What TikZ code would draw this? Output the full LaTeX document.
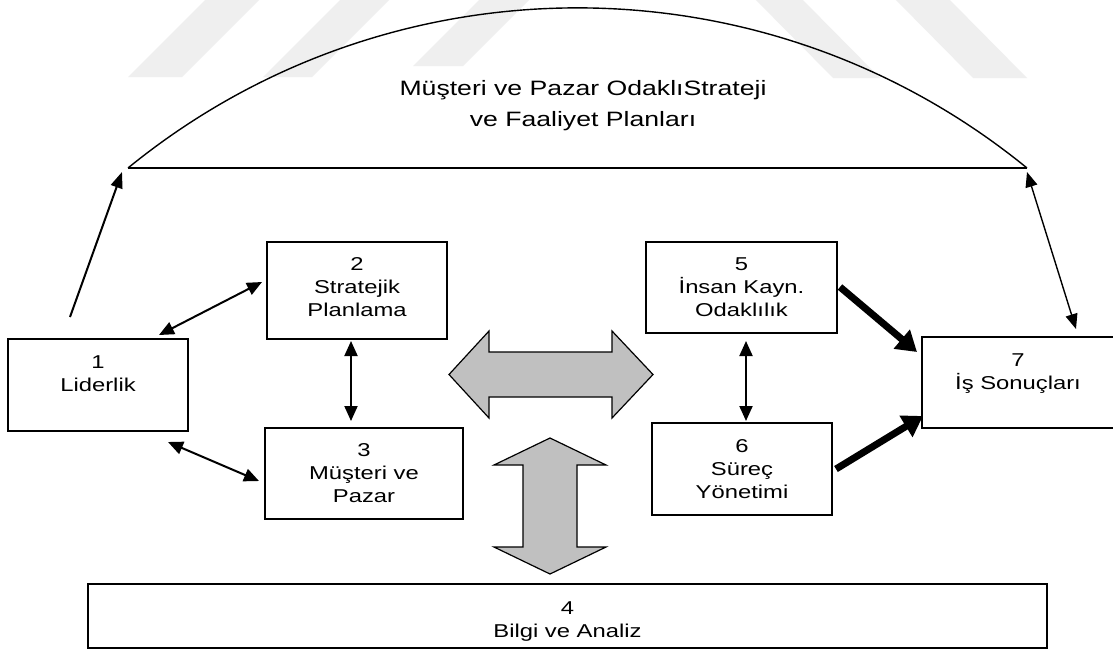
\documentclass[tikz,border=0pt]{standalone}
\usepackage{fontspec}
\setmainfont{Liberation Sans}[FakeStretch=1.28]
\usetikzlibrary{arrows.meta}

\definecolor{wmark}{HTML}{EFEFEF}
\definecolor{arrowfill}{HTML}{C0C0C0}

\tikzset{
  box/.style={draw, line width=1.6pt, fill=white, inner sep=0pt},
  boxtext/.style={anchor=base, align=center, inner sep=0pt,
    font=\fontsize{18.6pt}{23pt}\selectfont},
  link/.style={line width=2pt, {Triangle[length=15pt,width=13pt]}-{Triangle[length=15pt,width=13pt]}},
  thinlink/.style={line width=1.4pt, {Triangle[length=15pt,width=12pt]}-{Triangle[length=15pt,width=12pt]}},
  uplink/.style={line width=2pt, -{Triangle[length=16pt,width=12pt]}},
  heavy/.style={line width=7pt, -{Triangle[length=20pt,width=24pt]}},
  bigarrow/.style={draw, line width=1.2pt, fill=arrowfill, line join=miter},
  stripe/.style={fill=wmark, draw=none}
}

\begin{document}
\begin{tikzpicture}[x=1pt, y=-1pt]
\useasboundingbox (0,0) rectangle (1113,649);
\fill[white] (0,0) rectangle (1113,649);

% background stripes
\fill[stripe] (128,77) -- (182,77) -- (262,-3) -- (208,-3) -- cycle;
\fill[stripe] (263,77) -- (312,77) -- (392,-3) -- (343,-3) -- cycle;
\fill[stripe] (413,66) -- (463,66) -- (532,-3) -- (482,-3) -- cycle;
\fill[stripe] (833,78) -- (880,78) -- (800,-3) -- (753,-3) -- cycle;
\fill[stripe] (973,78) -- (1027,78) -- (947,-3) -- (893,-3) -- cycle;

% dome over the strategy heading
\coordinate (domeL) at (128,168);
\coordinate (domeR) at (1027,168);
\draw[line width=1.4pt] (domeL) .. controls (389.8,-45.5) and (765.2,-45.5) .. (domeR);
\draw[line width=1.8pt] (domeL) -- (domeR);
\node[anchor=base, align=center, inner sep=0pt,
  font=\fontsize{20.8pt}{31pt}\selectfont] (plan) at (583,126.5)
  {Müşteri ve Pazar OdaklıStrateji\\ve Faaliyet Planları};

% boxes
\node[box, minimum width=180pt, minimum height=92pt] (b1) at (98,385) {};
\node[box, minimum width=180pt, minimum height=97pt] (b2) at (357,290.5) {};
\node[box, minimum width=198pt, minimum height=91pt] (b3) at (364,473.5) {};
\node[box, minimum width=959pt, minimum height=64pt] (b4) at (567.5,616) {};
\node[box, minimum width=191pt, minimum height=91pt] (b5) at (741.5,287.5) {};
\node[box, minimum width=180pt, minimum height=92pt] (b6) at (742,469) {};
\node[box, minimum width=196pt, minimum height=91pt] (b7) at (1020,382.5) {};

% labels: the anchor is the baseline of the last line
\node[boxtext] (t1) at ([yshift=-53pt]b1.north) {1\\Liderlik};
\node[boxtext] (t2) at ([yshift=-75.5pt]b2.north) {2\\Stratejik\\Planlama};
\node[boxtext] (t3) at ([yshift=-75pt]b3.north) {3\\Müşteri ve\\Pazar};
\node[boxtext] (t4) at ([yshift=-54pt]b4.north) {4\\Bilgi ve Analiz};
\node[boxtext] (t5) at ([yshift=-75.5pt]b5.north) {5\\İnsan Kayn.\\Odaklılık};
\node[boxtext] (t6) at ([yshift=-76pt]b6.north) {6\\Süreç\\Yönetimi};
\node[boxtext] (t7) at ([xshift=-2pt,yshift=-53pt]b7.north) {7\\İş Sonuçları};

% connector end points
\coordinate (lidUp) at (70,317);
\coordinate (l12a) at (159,335);
\coordinate (l12b) at (262,282);
\coordinate (l13a) at (168,442);
\coordinate (l13b) at (259,481);
\coordinate (v23a) at (351,341);
\coordinate (v23b) at (351,421);
\coordinate (v56a) at (746,341);
\coordinate (v56b) at (746,421);
\coordinate (h57a) at (840,287);
\coordinate (h57b) at (917,352);
\coordinate (h67a) at (836,469);
\coordinate (h67b) at (923,416);
\coordinate (r7) at (1076,329);
\coordinate (domeTipL) at (122,172);
\coordinate (domeTipR) at (1027,172);

% connectors
\draw[uplink] (lidUp) -- (domeTipL);
\draw[thinlink] (domeTipR) -- (r7);
\draw[link] (l12a) -- (l12b);
\draw[link] (l13a) -- (l13b);
\draw[link] (v23a) -- (v23b);
\draw[link] (v56a) -- (v56b);
\draw[heavy] (h57a) -- (h57b);
\draw[heavy] (h67a) -- (h67b);

% broad two-way arrows
\draw[bigarrow] (449,374.5) -- (489,331) -- (489,352) -- (612,352) -- (612,331)
  -- (653,374.5) -- (612,418) -- (612,397) -- (489,397) -- (489,418) -- cycle;
\draw[bigarrow] (550,438) -- (606,465) -- (577,465) -- (577,547) -- (606,547)
  -- (550,574) -- (494,547) -- (523,547) -- (523,465) -- (494,465) -- cycle;
\end{tikzpicture}
\end{document}
